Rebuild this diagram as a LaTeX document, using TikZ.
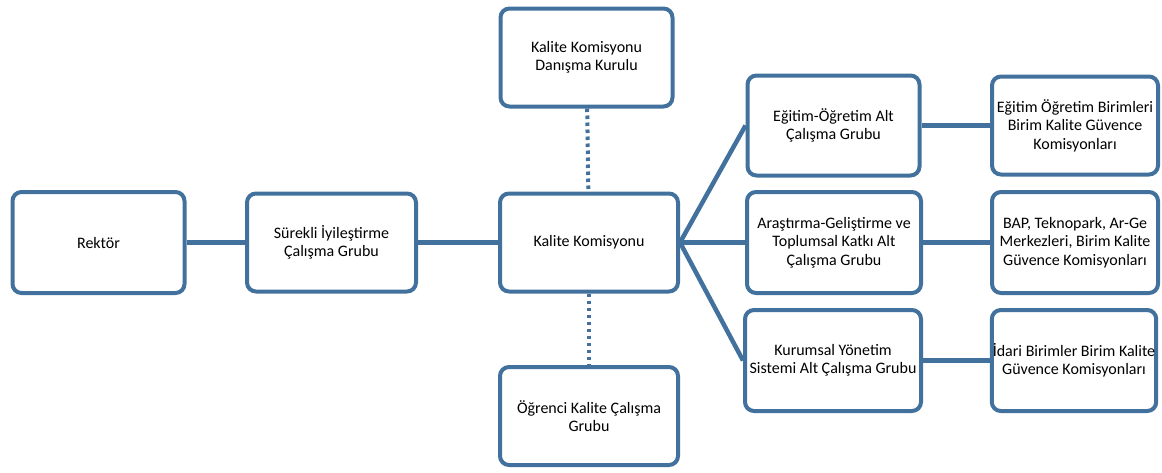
\documentclass[tikz,border=0pt]{standalone}
\usepackage{fontspec}
\setmainfont{Carlito}
\usetikzlibrary{calc}
\definecolor{kblue}{RGB}{65,113,156}
\tikzset{
	kbox/.style={draw=kblue, line width=4pt, rounded corners=9pt, fill=white,
		minimum width=172pt, minimum height=98pt, align=center, inner sep=1pt,
		font=\fontsize{16}{18.5}\selectfont},
	klink/.style={draw=kblue, line width=4.5pt},
	kdots/.style={draw=kblue, line width=4pt, dash pattern=on 3.5pt off 3.5pt}
}

\begin{document}
\begin{tikzpicture}[x=1pt, y=-1pt]
		%%%%% START %%%%%
		\useasboundingbox (0, 0) rectangle (1162, 472);
		
		\node[kbox, minimum height=101pt] (rek) at (98.5, 242.5) {Rektör};
		\node[kbox, minimum width=169pt] (sur) at (331.5, 242.5) {Sürekli İyileştirme\\Çalışma Grubu};
		
		\node[kbox] (dan) at (586.5, 57.5) {Kalite Komisyonu\\Danışma Kurulu};
		\node[kbox, minimum width=178pt] (kk) at (589, 242.5) {Kalite Komisyonu};
		\node[kbox, minimum width=178pt] (ogr) at (589, 416) {Öğrenci Kalite Çalışma\\Grubu};
		
		\node[kbox, minimum height=100pt] (egt) at (833.5, 125.5) {Eğitim-Öğretim Alt\\Çalışma Grubu};
		\node[kbox, minimum width=174pt, minimum height=101pt] (arg) at (834, 242.5) {Araştırma-Geliştirme ve\\Toplumsal Katkı Alt\\Çalışma Grubu};
		\node[kbox, minimum width=176pt, minimum height=101pt] (kur) at (833, 360.5) {Kurumsal Yönetim\\Sistemi Alt Çalışma Grubu};
		
		\node[kbox, minimum width=166pt] (egb) at (1075, 125.5) {Eğitim Öğretim Birimleri\\Birim Kalite Güvence\\Komisyonları};
		\node[kbox, minimum width=166pt, minimum height=101pt] (bap) at (1075, 242.5) {BAP, Teknopark, Ar-Ge\\Merkezleri, Birim Kalite\\Güvence Komisyonları};
		\node[kbox, minimum width=164pt, minimum height=101pt] (ida) at (1074, 360.5) {İdari Birimler Birim Kalite\\Güvence Komisyonları};
		
		\draw[klink] (rek) -- (sur);
		\draw[klink] (sur) -- (kk);
		\draw[kdots] (dan) -- (kk);
		\draw[kdots] (kk) -- (ogr);
		
		\draw[klink] (kk.east) -- (egt.west);
		\draw[klink] (kk.east) -- (arg.west);
		\draw[klink] (kk.east) -- (kur.west);
		
		\draw[klink] (egt) -- (egb);
		\draw[klink] (arg) -- (bap);
		\draw[klink] (kur) -- (ida);
		
		%%%%% END %%%%%
	\end{tikzpicture}
\end{document}
